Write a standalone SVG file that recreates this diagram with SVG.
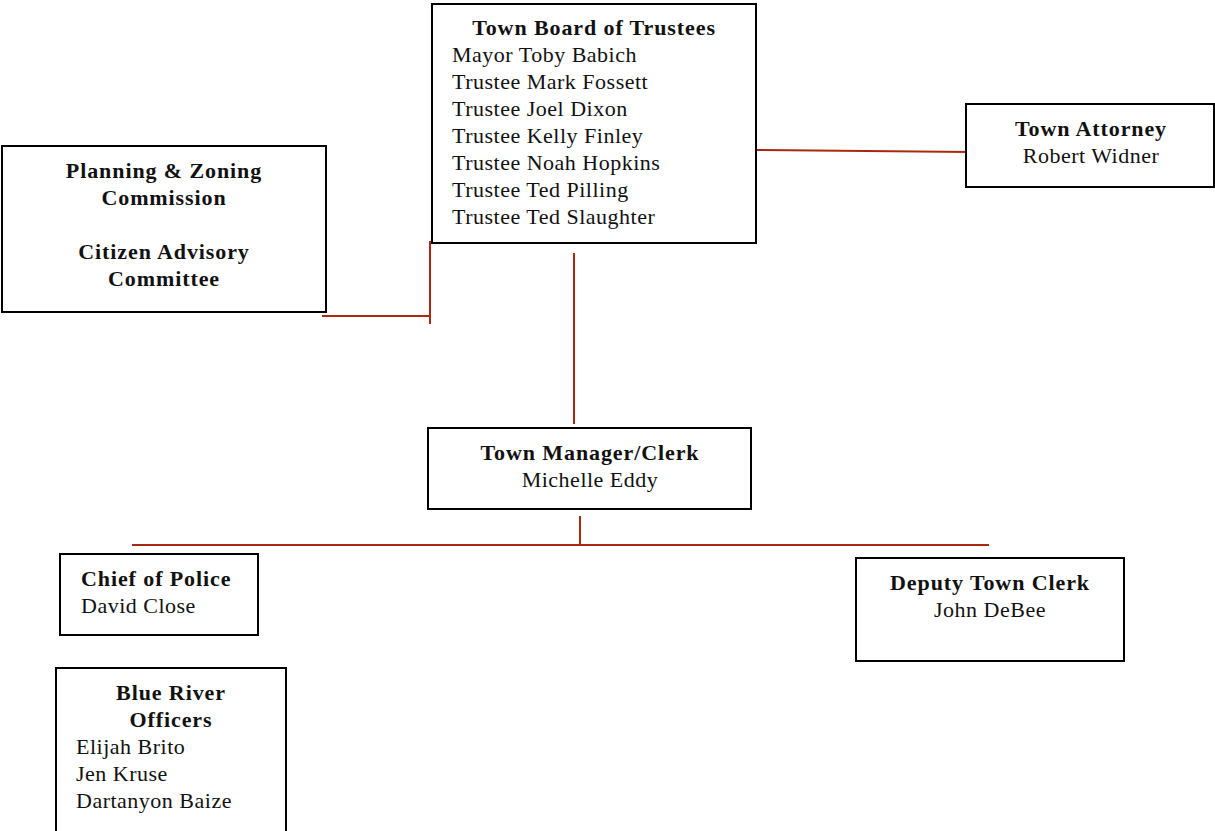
<svg xmlns="http://www.w3.org/2000/svg" width="1215" height="831" viewBox="0 0 1215 831">
<style>
.box{fill:#fff;stroke:#000;stroke-width:2}
text{font-family:"Liberation Serif","Times New Roman",serif;font-size:22px;letter-spacing:0.5px;fill:#111}
.b{font-weight:bold;letter-spacing:0.9px}
.c{text-anchor:middle}
.con line{stroke:#A8290F;stroke-width:2}
</style>
<rect width="1215" height="831" fill="#fff"/>
<g class="con">
<line x1="756" y1="150" x2="970" y2="152"/>
<line x1="574" y1="253" x2="574" y2="424"/>
<line x1="430" y1="241" x2="430" y2="324"/>
<line x1="322" y1="316" x2="431" y2="316"/>
<line x1="580" y1="516" x2="580" y2="545"/>
<line x1="132" y1="545" x2="989" y2="545"/>
</g>
<g id="board">
<rect class="box" x="432" y="4" width="324" height="239"/>
<text class="b c" x="594" y="35">Town Board of Trustees</text>
<text x="452" y="62">Mayor Toby Babich</text>
<text x="452" y="89">Trustee Mark Fossett</text>
<text x="452" y="116">Trustee Joel Dixon</text>
<text x="452" y="143">Trustee Kelly Finley</text>
<text x="452" y="170">Trustee Noah Hopkins</text>
<text x="452" y="197">Trustee Ted Pilling</text>
<text x="452" y="224">Trustee Ted Slaughter</text>
</g>
<g id="planning">
<rect class="box" x="2" y="146" width="324" height="166"/>
<text class="b c" x="164" y="178">Planning &amp; Zoning</text>
<text class="b c" x="164" y="205">Commission</text>
<text class="b c" x="164" y="259">Citizen Advisory</text>
<text class="b c" x="164" y="286">Committee</text>
</g>
<g id="attorney">
<rect class="box" x="966" y="104" width="248" height="83"/>
<text class="b c" x="1091" y="136">Town Attorney</text>
<text class="c" x="1091" y="163">Robert Widner</text>
</g>
<g id="manager">
<rect class="box" x="428" y="428" width="323" height="81"/>
<text class="b c" x="590" y="460">Town Manager/Clerk</text>
<text class="c" x="590" y="487">Michelle Eddy</text>
</g>
<g id="police">
<rect class="box" x="60" y="554" width="198" height="81"/>
<text class="b" x="81" y="586">Chief of Police</text>
<text x="81" y="613">David Close</text>
</g>
<g id="officers">
<rect class="box" x="56" y="668" width="230" height="170"/>
<text class="b c" x="171" y="700">Blue River</text>
<text class="b c" x="171" y="727">Officers</text>
<text x="76" y="754">Elijah Brito</text>
<text x="76" y="781">Jen Kruse</text>
<text x="76" y="808">Dartanyon Baize</text>
</g>
<g id="deputy">
<rect class="box" x="856" y="558" width="268" height="103"/>
<text class="b c" x="990" y="590">Deputy Town Clerk</text>
<text class="c" x="990" y="617">John DeBee</text>
</g>
</svg>
